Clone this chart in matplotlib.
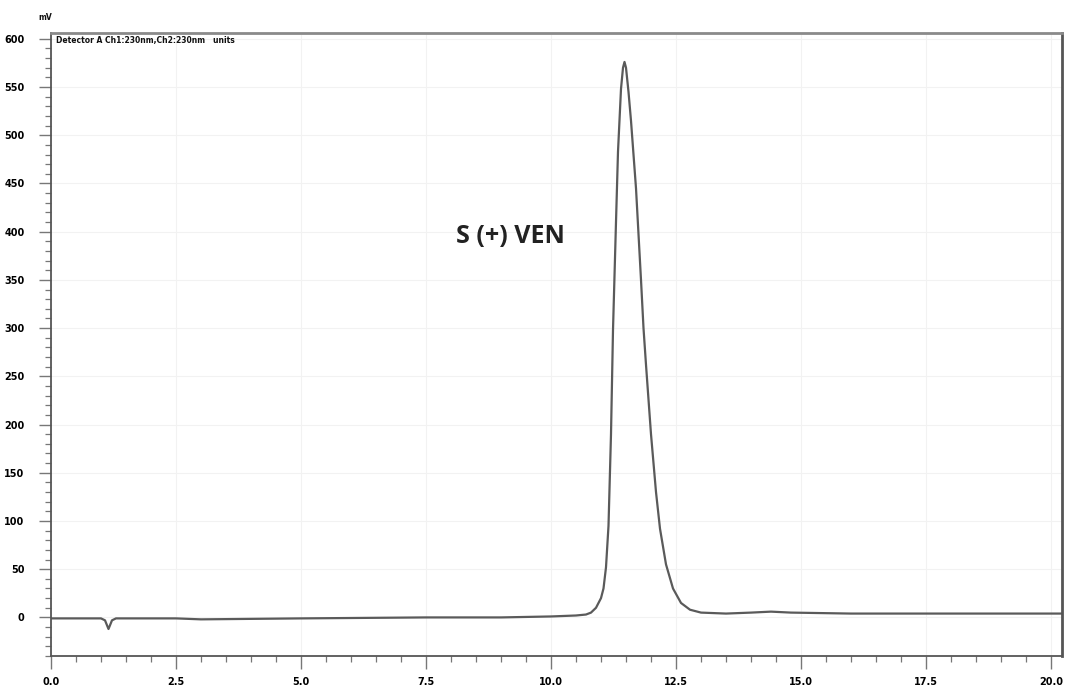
import matplotlib
matplotlib.use("Agg")
import matplotlib.pyplot as plt
from matplotlib.ticker import MultipleLocator, FormatStrFormatter

# retention time (min) and detector signal (mV)
time_min = [0.0, 0.5, 1.0, 1.08, 1.15, 1.22, 1.3, 2.5, 3.0, 5.0, 7.5, 9.0, 10.0, 10.5, 10.7,
            10.8, 10.9, 11.0, 11.05, 11.1, 11.15, 11.2, 11.24, 11.3, 11.34, 11.4, 11.44,
            11.47, 11.5, 11.55, 11.6, 11.65, 11.7, 11.8, 11.85, 11.9, 12.0, 12.1, 12.18,
            12.3, 12.44, 12.6, 12.78, 13.0, 13.5, 14.0, 14.4, 14.8, 16.0, 18.0, 20.25]
signal_mv = [-1, -1, -1, -3, -12, -3, -1, -1, -2, -1, 0, 0, 1, 2, 3,
             5, 10, 20, 30, 52, 95, 190, 298, 410, 483, 548, 570,
             576, 570, 545, 515, 480, 445, 350, 300, 262, 190, 130, 92,
             55, 30, 15, 8, 5, 4, 5, 6, 5, 4, 4, 4]

peak_label = "S (+) VEN"
header = "Detector A Ch1:230nm,Ch2:230nm   units"

fig = plt.figure(figsize=(10.65, 6.96), dpi=100)
ax = fig.add_axes([51 / 1065, 1 - 656 / 696, (1062 - 51) / 1065, (656 - 33) / 696])

ax.plot(time_min, signal_mv, color="#5a5a5a", lw=1.6, solid_joinstyle="round")

ax.set_xlim(0, 20.22)
ax.set_ylim(-40, 606)
ax.xaxis.set_major_locator(MultipleLocator(2.5))
ax.xaxis.set_minor_locator(MultipleLocator(0.5))
ax.yaxis.set_major_locator(MultipleLocator(50))
ax.yaxis.set_minor_locator(MultipleLocator(10))
ax.xaxis.set_major_formatter(FormatStrFormatter("%.1f"))
ax.yaxis.set_major_formatter(FormatStrFormatter("%d"))

ax.tick_params(which="major", direction="out", length=9, width=1.0, color="#777777",
               labelsize=7, pad=6)
ax.tick_params(axis="y", which="major", pad=10)
ax.tick_params(which="minor", direction="out", length=4, width=0.9, color="#777777")
for lab in ax.get_xticklabels() + ax.get_yticklabels():
    lab.set_fontweight("bold")

ax.grid(True, which="major", color="#f2f2f2", lw=0.8)
for side, spine in ax.spines.items():
    spine.set_color("#555555")
    spine.set_linewidth(1.3)
ax.spines["top"].set_color("#8a8a8a")
ax.spines["top"].set_linewidth(2.0)
ax.spines["right"].set_linewidth(2.0)

ax.text(9.18, 395, peak_label, fontsize=18, fontweight="bold", family="Open Sans",
        ha="center", va="center", color="#222222")
ax.text(0.1, 603, header, fontsize=5.5, fontweight="bold", ha="left", va="top", color="#111111")
fig.text(45 / 1065, 1 - 17 / 696, "mV", fontsize=5.5, fontweight="bold", ha="center",
         va="center", color="#111111")

fig.savefig("out.png", dpi=100, facecolor="white")
